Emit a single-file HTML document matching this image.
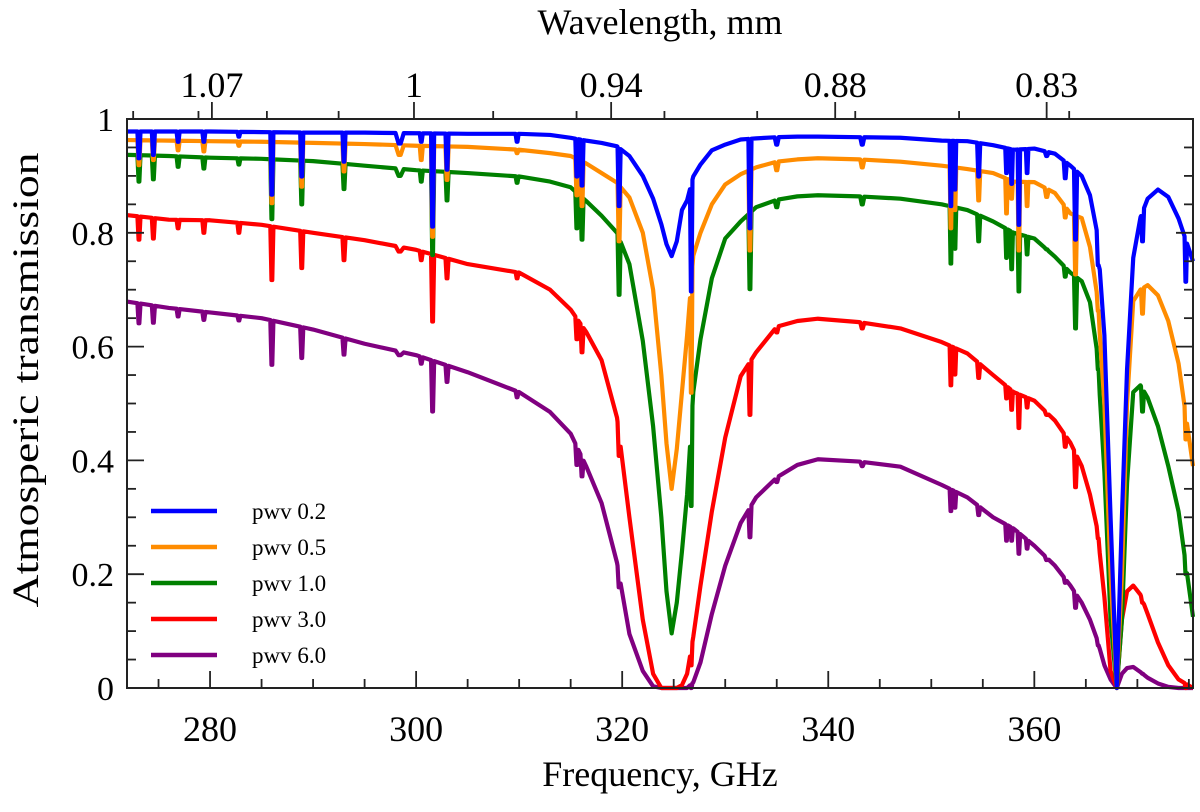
<!DOCTYPE html>
<html><head><meta charset="utf-8"><style>
html,body{margin:0;padding:0;background:#fff;}
svg{display:block;}
text{font-family:"Liberation Serif",serif;fill:#000;}
</style></head><body>
<svg id="chart" width="1200" height="812" viewBox="0 0 1200 812" xmlns="http://www.w3.org/2000/svg">
<g id="series"></g>
<rect x="127" y="119" width="1066" height="569" fill="none" stroke="#222" stroke-width="2"/>
<g id="axes"></g>
<text x="660" y="786" font-size="36" text-anchor="middle">Frequency, GHz</text>
<text x="660" y="34" font-size="36" text-anchor="middle">Wavelength, mm</text>
<text transform="translate(38,380) rotate(-90)" font-size="37" text-anchor="middle" textLength="455" lengthAdjust="spacingAndGlyphs">Atmosperic transmission</text>
<g id="legend"></g>
</svg>
<script>
const seriesNames = ["pwv 0.2","pwv 0.5","pwv 1.0","pwv 3.0","pwv 6.0"];
const seriesColors = ["#0000ff","#ff8c00","#008000","#ff0000","#800080"];
const gridFreq = [272,276,280,285,290,295,300,305,310,313,315,316.5,318,319.5,320.7,322,323,323.8,324.3,324.8,325.3,325.8,326.3,326.9,327.6,328.7,330,331.5,333,335,337,339,343,347,351,353.5,356,358,360,362,363.5,364.6,365.4,366.1,366.8,367.4,368.0,368.5,369.0,369.6,370.3,371,372,373,374,375.4];
const pwv02 = [.978,.978,.978,.977,.976,.976,.975,.974,.974,.972,.967,.962,.958,.952,.935,.90,.86,.815,.78,.759,.785,.84,.857,.899,.92,.945,.955,.964,.966,.968,.969,.969,.968,.967,.962,.961,.954,.946,.948,.939,.918,.90,.866,.80,.62,.30,0,.30,.56,.756,.827,.86,.876,.863,.825,.75];
const pwv05 = [.963,.962,.961,.96,.958,.956,.953,.951,.946,.94,.935,.922,.905,.888,.862,.80,.70,.55,.43,.35,.42,.52,.62,.76,.80,.85,.885,.903,.915,.925,.929,.931,.929,.925,.918,.912,.905,.89,.889,.87,.834,.826,.775,.69,.50,.20,0,.20,.50,.68,.70,.708,.69,.645,.57,.39];
const pwv10 = [.937,.935,.932,.93,.926,.918,.91,.905,.899,.89,.88,.856,.83,.80,.745,.61,.46,.30,.17,.096,.15,.24,.34,.52,.613,.72,.79,.82,.845,.858,.864,.866,.864,.86,.85,.84,.82,.80,.79,.758,.73,.715,.678,.59,.38,.12,0,.12,.36,.52,.532,.51,.46,.39,.31,.125];
const pwv30 = [.831,.823,.822,.814,.80,.787,.77,.745,.73,.70,.665,.626,.576,.475,.30,.12,.025,0,0,0,0,.005,.025,.09,.18,.31,.44,.548,.59,.635,.645,.649,.643,.632,.608,.588,.55,.52,.505,.47,.431,.39,.34,.28,.16,.03,0,.12,.17,.18,.164,.13,.08,.04,.015,0];
const pwv60 = [.679,.668,.66,.65,.63,.605,.585,.555,.52,.485,.447,.39,.325,.22,.095,.03,.003,0,0,0,0,0,0,.01,.045,.13,.215,.29,.335,.37,.392,.402,.398,.389,.357,.335,.30,.28,.25,.215,.18,.15,.12,.085,.04,.015,0,.025,.035,.037,.028,.018,.008,.002,0,0];
const dipFreq = [273.1,274.5,276.9,279.4,282.8,286.0,288.9,293.0,298.4,300.5,301.6,303.0,309.8,315.6,316.1,319.7,326.7,332.4,335.0,343.3,351.9,352.3,354.6,357.3,357.8,358.5,359.3,361.2,363.0,364.0,366.2,370.5,374.7];
const dipHalfWidth = [.15,.15,.15,.15,.15,.15,.15,.15,.4,.15,.15,.15,.15,.15,.15,.15,.12,.15,.2,.2,.12,.12,.15,.12,.12,.12,.12,.2,.15,.15,.15,.15,.12];
const dip02 = [.931,.937,.96,.96,.969,.867,.899,.925,.957,.96,.811,.911,.96,.899,.883,.847,.697,.808,.955,.955,.847,.876,.899,.905,.886,.814,.905,.935,.896,.788,.743,.785,.714];
const dip05 = [.919,.928,.945,.943,.953,.852,.881,.908,.937,.928,.793,.893,.94,.866,.847,.785,.519,.769,.91,.915,.808,.84,.857,.834,.86,.769,.847,.863,.827,.727,.665,.658,.437];
const dip10 = [.89,.894,.916,.913,.92,.824,.85,.877,.90,.89,.761,.857,.888,.808,.788,.691,.32,.701,.845,.85,.746,.772,.785,.756,.736,.697,.762,.772,.723,.632,.561,.486,.20];
const dip30 = [.788,.79,.808,.80,.80,.717,.738,.752,.767,.752,.644,.72,.72,.613,.59,.408,.04,.48,.625,.632,.532,.551,.545,.509,.489,.457,.493,.48,.424,.353,.27,.15,0];
const dip60 = [.641,.642,.653,.647,.646,.568,.58,.586,.585,.57,.486,.538,.511,.392,.372,.177,0,.265,.362,.39,.311,.317,.304,.259,.259,.236,.245,.225,.185,.141,.075,.025,0];
const xTicksMajor = [280,300,320,340,360];
const wlMajor = [1.07,1.0,0.94,0.88,0.83];
const wlMajorLabels = ["1.07","1","0.94","0.88","0.83"];
const wlMinor = [1.1,1.075,1.05,1.025,0.975,0.95,0.925,0.9,0.875,0.85,0.825];
const yTickLabels = ["0","0.2","0.4","0.6","0.8","1"];

const X0=127, X1=1193, Y0=688, Y1=119, F0=271.94, F1=375.4;
const xs = f => X0 + (f-F0)/(F1-F0)*(X1-X0);
const ys = v => Y0 - v*(Y0-Y1);
const NS="http://www.w3.org/2000/svg";
function mk(tag, attrs, parent){const e=document.createElementNS(NS,tag);for(const k in attrs)e.setAttribute(k,attrs[k]);parent.appendChild(e);return e;}
function baseAt(f, vals){
  for(let i=0;i<gridFreq.length-1;i++){
    if(f>=gridFreq[i]&&f<=gridFreq[i+1]){const t=(f-gridFreq[i])/(gridFreq[i+1]-gridFreq[i]);return vals[i]+t*(vals[i+1]-vals[i]);}
  }
  return vals[vals.length-1];
}
const seriesVals=[pwv02,pwv05,pwv10,pwv30,pwv60];
const seriesDips=[dip02,dip05,dip10,dip30,dip60];
const sg=document.getElementById('series');
for(let s=4;s>=0;s--){
  const vals=seriesVals[s], dips=seriesDips[s];
  let pts=gridFreq.map((f,i)=>[f,vals[i]]);
  dipFreq.forEach((f,j)=>{
    const w=dipHalfWidth[j];
    const bl=baseAt(f-w,vals), br=baseAt(f+w,vals), bc=baseAt(f,vals);
    const m=Math.min(dips[j],bc);
    pts=pts.filter(p=>p[0]<f-w||p[0]>f+w);
    pts.push([f-w,bl],[f-w*0.25,m],[f+w*0.25,m],[f+w,br]);
  });
  pts.sort((a,b)=>a[0]-b[0]);
  pts=pts.filter(p=>p[0]>=F0&&p[0]<=F1);
  const d=pts.map((p,i)=>(i?'L':'M')+xs(p[0]).toFixed(2)+' '+ys(p[1]).toFixed(2)).join(' ');
  const path=mk('path',{d:d,fill:'none',stroke:seriesColors[s],'stroke-width':4.2,'stroke-linejoin':'round'},sg);
  
  
}
const ag=document.getElementById('axes');
const tk={stroke:'#222','stroke-width':1.8};
for(let f=275;f<=375;f+=5){
  const major=xTicksMajor.includes(f), L=major?17:9, x=xs(f);
  const t1=mk('line',Object.assign({x1:x,x2:x,y1:Y0,y2:Y0-L},tk),ag);
  
  
}
xTicksMajor.forEach(f=>{
  const t=mk('text',{x:xs(f),y:741,'font-size':36,'text-anchor':'middle'},ag);t.textContent=f;
  
  
});
wlMinor.forEach(w=>{
  const x=xs(299.792458/w);
  const t=mk('line',Object.assign({x1:x,x2:x,y1:Y1,y2:Y1-8},tk),ag);
  
  
});
wlMajor.forEach((w,i)=>{
  const x=xs(299.792458/w);
  const t=mk('line',Object.assign({x1:x,x2:x,y1:Y1,y2:Y1-17},tk),ag);
  
  
  const l=mk('text',{x:x,y:97,'font-size':36,'text-anchor':'middle'},ag);l.textContent=wlMajorLabels[i];
  
  
});
for(let k=0;k<=20;k++){
  const v=k*0.05, y=ys(v), major=(k%4===0), L=major?17:9;
  const a=mk('line',Object.assign({x1:X0,x2:X0+L,y1:y,y2:y},tk),ag);
  
  
  const b=mk('line',Object.assign({x1:X1,x2:X1-L,y1:y,y2:y},tk),ag);
  
  
}
yTickLabels.forEach((s,i)=>{
  const t=mk('text',{x:114,y:ys(i*0.2)+12,'font-size':34,'text-anchor':'end'},ag);t.textContent=s;
  
  
});
const lg=document.getElementById('legend');
seriesNames.forEach((n,i)=>{
  const y=511+i*36;
  const g=mk('g',{},lg);
  
  
  mk('line',{x1:151,x2:217,y1:y,y2:y,stroke:seriesColors[i],'stroke-width':4.5},g);
  const t=mk('text',{x:252,y:y+8,'font-size':23},g);t.textContent=n;
});
</script>
</body></html>
